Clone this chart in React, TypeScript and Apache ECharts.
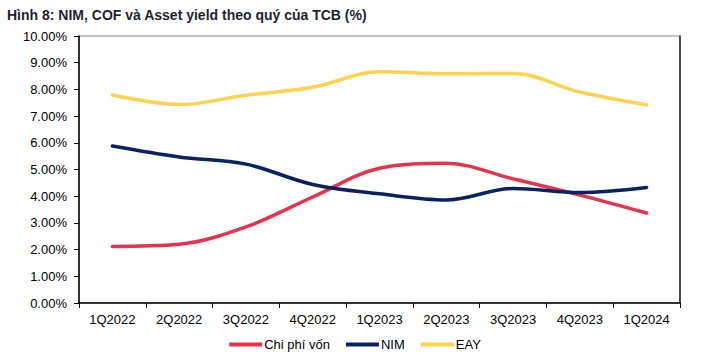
import React, { useEffect, useRef } from "react";
import * as echarts from "echarts";

const categories = ["1Q2022", "2Q2022", "3Q2022", "4Q2022", "1Q2023", "2Q2023", "3Q2023", "4Q2023", "1Q2024"];
const cof = [2.12, 2.2, 2.85, 3.97, 5.05, 5.23, 4.65, 4.04, 3.37];
const nim = [5.88, 5.47, 5.2, 4.44, 4.09, 3.86, 4.29, 4.14, 4.33];
const eay = [7.79, 7.43, 7.78, 8.08, 8.66, 8.59, 8.6, 7.9, 7.42];
const yTicks = [0, 1, 2, 3, 4, 5, 6, 7, 8, 9, 10];

const FONT = "'Liberation Sans', Arial, sans-serif";

export default function App() {
  const ref = useRef<HTMLDivElement>(null);
  useEffect(() => {
    if (!ref.current) return;
    const chart = echarts.init(ref.current, null, { renderer: "svg" });
    const mk = (name: string, data: number[], color: string) => ({
      name,
      type: "line",
      data,
      smooth: 0.35,
      symbol: "none",
      lineStyle: { color, width: 3.5, cap: "round" },
      itemStyle: { color },
    });
    chart.setOption({
      animation: false,
      backgroundColor: "#ffffff",
      textStyle: { fontFamily: FONT },
      title: {
        text: "Hình 8: NIM, COF và Asset yield theo quý của TCB (%)",
        left: 2,
        top: 3,
        textStyle: { fontSize: 14, fontWeight: "bold", color: "#1f1f2e", fontFamily: FONT },
      },
      legend: {
        bottom: 4,
        left: "center",
        itemWidth: 33,
        itemHeight: 4,
        itemGap: 16,
        icon: "rect",
        textStyle: { fontSize: 13, color: "#000", fontFamily: FONT, padding: [0, 0, 0, -3] },
        data: ["Chi phí vốn", "NIM", "EAY"],
      },
      grid: {
        left: 79,
        right: 30,
        top: 36,
        bottom: 57,
        show: true,
        borderColor: "#8a8a8a",
        borderWidth: 1,
      },
      xAxis: [
        {
          type: "category",
          data: categories,
          boundaryGap: true,
          axisLine: { lineStyle: { color: "#000", width: 1.5 } },
          axisTick: { show: true, length: 5, lineStyle: { color: "#000" } },
          axisLabel: { fontSize: 13, color: "#000", margin: 10, fontFamily: FONT },
          splitLine: { show: false },
        },
      ],
      yAxis: [
        {
          type: "value",
          min: 0,
          max: 10,
          interval: 1,
          axisLine: { show: true, lineStyle: { color: "#000", width: 1.5 } },
          axisTick: { show: true, length: 5, lineStyle: { color: "#000" } },
          axisLabel: {
            fontSize: 13,
            color: "#000",
            margin: 12,
            fontFamily: FONT,
            formatter: (v: number) => (yTicks.includes(v) ? v.toFixed(2) + "%" : ""),
          },
          splitLine: { show: false },
        },
        {
          type: "value",
          position: "right",
          min: 0,
          max: 10,
          interval: 1,
          axisLine: { show: true, lineStyle: { color: "#222", width: 1.5 } },
          axisTick: { show: false },
          axisLabel: { show: false },
          splitLine: { show: false },
        },
      ],
      series: [
        mk("Chi phí vốn", cof, "#E8304F"),
        mk("NIM", nim, "#0B2260"),
        mk("EAY", eay, "#FFD24C"),
      ],
    });
    return () => chart.dispose();
  }, []);
  return <div ref={ref} style={{ width: 710, height: 360, position: "absolute", left: 0, top: 0 }} />;
}
